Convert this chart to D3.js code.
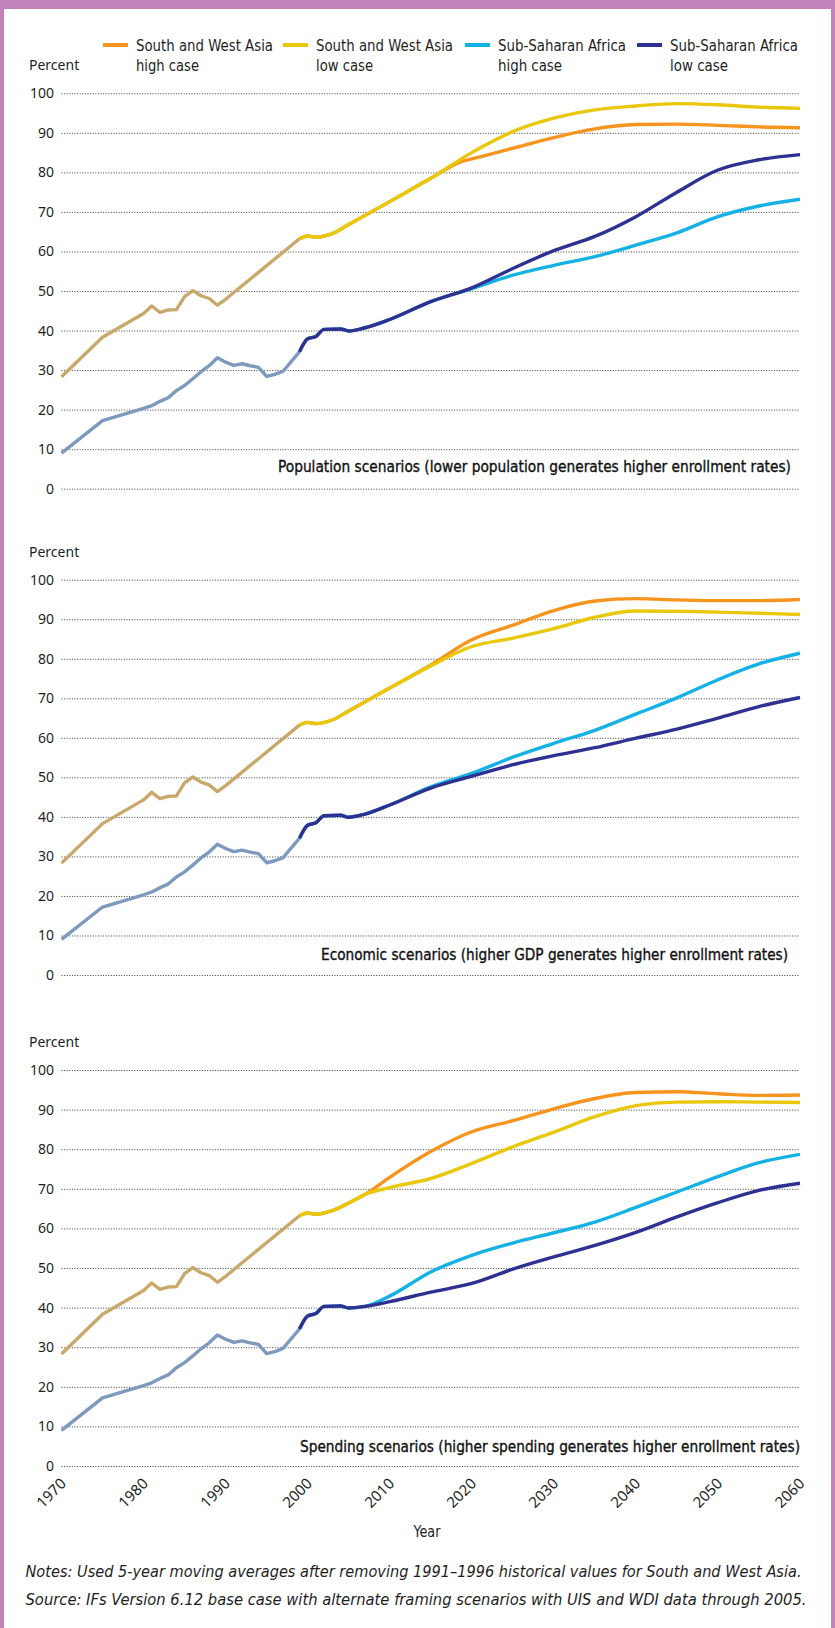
<!DOCTYPE html>
<html>
<head>
<meta charset="utf-8">
<script src="https://cdn.jsdelivr.net/npm/d3@7"></script>
<style>
  body { margin: 0; background: #fff; }
  svg { display: block; }
</style>
</head>
<body>
<svg id="chart" width="835" height="1628"></svg>
<script>
// ---- Data -------------------------------------------------------------
const yearTicks = [1970, 1980, 1990, 2000, 2010, 2020, 2030, 2040, 2050, 2060];
const percentTicks = [0, 10, 20, 30, 40, 50, 60, 70, 80, 90, 100];

const legendLabels = [
  ["South and West Asia", "high case"],
  ["South and West Asia", "low case"],
  ["Sub-Saharan Africa", "high case"],
  ["Sub-Saharan Africa", "low case"]
];

const panelCaptions = [
  "Population scenarios (lower population generates higher enrollment rates)",
  "Economic scenarios (higher GDP generates higher enrollment rates)",
  "Spending scenarios (higher spending generates higher enrollment rates)"
];

// Historical enrollment, [year, percent]
const swaHistory = [[1970,28.3],[1975,38.3],[1980,44.3],[1981,46.2],[1982,44.6],[1983,45.2],[1984,45.3],
  [1985,48.6],[1986,50.1],[1987,48.8],[1988,48.1],[1989,46.4],[1990,47.9],[1999,63.2]];
const ssaHistory = [[1970,9.0],[1975,17.2],[1980,20.3],[1981,21.0],[1982,22.1],[1983,23.0],[1984,24.8],
  [1985,26.1],[1986,27.8],[1987,29.6],[1988,31.1],[1989,33.1],[1990,32.0],[1991,31.2],[1992,31.6],
  [1993,31.1],[1994,30.7],[1995,28.4],[1996,28.9],[1997,29.7],[1999,34.6]];

// Population scenarios
const popSwaHigh = [[1999,63.2],[2000,63.9],[2001,63.6],[2003,64.5],[2005,66.8],[2010,72.6],[2015,78.5],
  [2019,82.9],[2020,83.4],[2025,86.1],[2030,88.8],[2035,91.0],[2040,92.1],[2045,92.2],[2050,91.9],[2055,91.5],[2060,91.3]];
const popSwaLow = [[1999,63.2],[2000,63.9],[2001,63.6],[2003,64.5],[2005,66.8],[2010,72.6],[2015,78.5],
  [2020,85.0],[2025,90.3],[2030,93.7],[2035,95.8],[2040,96.8],[2045,97.4],[2050,97.1],[2055,96.5],[2060,96.2]];
const popSsaHigh = [[1999,34.6],[2000,37.9],[2001,38.5],[2002,40.3],[2004,40.4],[2005,39.9],[2007,40.7],
  [2010,42.8],[2015,47.3],[2020,50.6],[2025,54.0],[2030,56.5],[2035,58.7],[2040,61.6],[2045,64.7],[2050,68.8],[2055,71.5],[2060,73.2]];
const popSsaLow = [[1999,34.6],[2000,37.9],[2001,38.5],[2002,40.3],[2004,40.4],[2005,39.9],[2007,40.7],
  [2010,42.8],[2015,47.3],[2020,50.8],[2025,55.7],[2030,60.2],[2035,63.8],[2040,68.8],[2045,75.0],[2050,80.6],[2055,83.2],[2060,84.5]];

// Economic scenarios
const gdpSwaHigh = [[1999,63.2],[2000,63.9],[2001,63.6],[2003,64.5],[2005,66.8],[2010,72.6],[2015,78.4],
  [2020,84.8],[2025,88.5],[2030,92.2],[2035,94.6],[2040,95.2],[2045,94.9],[2050,94.7],[2055,94.7],[2060,95.0]];
const gdpSwaLow = [[1999,63.2],[2000,63.9],[2001,63.6],[2003,64.5],[2005,66.8],[2010,72.6],[2015,78.2],
  [2020,83.1],[2025,85.2],[2030,87.6],[2035,90.5],[2040,92.1],[2045,92.0],[2050,91.8],[2055,91.5],[2060,91.2]];
const gdpSsaHigh = [[1999,34.6],[2000,37.9],[2001,38.5],[2002,40.3],[2004,40.4],[2005,39.9],[2007,40.7],
  [2010,43.0],[2015,47.6],[2020,51.0],[2025,55.1],[2030,58.6],[2035,61.9],[2040,66.0],[2045,70.1],[2050,74.7],[2055,78.7],[2060,81.4]];
const gdpSsaLow = [[1999,34.6],[2000,37.9],[2001,38.5],[2002,40.3],[2004,40.4],[2005,39.9],[2007,40.7],
  [2010,43.0],[2015,47.3],[2020,50.3],[2025,53.2],[2030,55.5],[2035,57.5],[2040,59.9],[2045,62.2],[2050,65.0],[2055,67.9],[2060,70.2]];

// Spending scenarios
const spendSwaHigh = [[1999,63.2],[2000,63.9],[2001,63.6],[2003,64.5],[2005,66.4],[2007,68.6],[2010,72.9],
  [2015,79.4],[2020,84.4],[2025,87.2],[2030,90.2],[2035,92.8],[2040,94.3],[2045,94.5],[2050,94.0],[2055,93.6],[2060,93.7]];
const spendSwaLow = [[1999,63.2],[2000,63.9],[2001,63.6],[2003,64.5],[2005,66.4],[2007,68.6],[2010,70.3],
  [2015,72.6],[2020,76.4],[2025,80.6],[2030,84.3],[2035,88.2],[2040,91.0],[2045,91.9],[2050,92.0],[2055,91.9],[2060,91.8]];
const spendSsaHigh = [[1999,34.6],[2000,37.9],[2001,38.5],[2002,40.3],[2004,40.4],[2005,39.9],[2007,40.3],
  [2010,42.9],[2015,49.0],[2020,53.2],[2025,56.3],[2030,58.9],[2035,61.6],[2040,65.3],[2045,69.2],[2050,73.1],[2055,76.6],[2060,78.7]];
const spendSsaLow = [[1999,34.6],[2000,37.9],[2001,38.5],[2002,40.3],[2004,40.4],[2005,39.9],[2007,40.3],
  [2010,41.5],[2015,43.9],[2020,46.1],[2025,49.7],[2030,52.8],[2035,55.7],[2040,59.0],[2045,62.9],[2050,66.5],[2055,69.6],[2060,71.4]];

const notesText = "Notes: Used 5-year moving averages after removing 1991\u20131996 historical values for South and West Asia.";
const sourceText = "Source: IFs Version 6.12 base case with alternate framing scenarios with UIS and WDI data through 2005.";

// ---- Styles & layout -------------------------------------------------
const colors = {
  swaHigh: "#f7941d", swaLow: "#e9c70b", ssaHigh: "#14b1e7", ssaLow: "#2e3192",
  swaHist: "#c9a96b", ssaHist: "#7d99be", frame: "#c283ba", grid: "#3a3a3a", text: "#1e1e1e"
};
const seriesColors = [colors.swaHigh, colors.swaLow, colors.ssaHigh, colors.ssaLow];

const condensed = "'Liberation Sans Narrow', 'DejaVu Sans Condensed', 'Arial Narrow', 'Noto Sans', sans-serif";
const plain = "'Noto Sans', 'Open Sans', sans-serif";

const W = 835, H = 1628;
const plotLeft = 61.5, plotRight = 800;

const panels = [
  { top: 93.3,  bottom: 488.7, capRight: 791, capY: 472,
    series: [popSwaHigh, popSwaLow, popSsaHigh, popSsaLow] },
  { top: 579.7, bottom: 975,   capRight: 788, capY: 960,
    series: [gdpSwaHigh, gdpSwaLow, gdpSsaHigh, gdpSsaLow] },
  { top: 1070,  bottom: 1466,  capRight: 800, capY: 1452,
    series: [spendSwaHigh, spendSwaLow, spendSsaHigh, spendSsaLow] }
];
const captionWidths = [513, 467, 500];

// Squeeze a text element to a target width (condensed look)
function fitWidth(sel, w) {
  sel.attr("textLength", w).attr("lengthAdjust", "spacingAndGlyphs");
}

const svg = d3.select("#chart");
svg.append("rect").attr("width", W).attr("height", H).attr("fill", "#fff");

// Frame
svg.append("rect").attr("x", 0).attr("y", 0).attr("width", W).attr("height", 9).attr("fill", colors.frame);
svg.append("rect").attr("x", 0).attr("y", 0).attr("width", 4).attr("height", H).attr("fill", colors.frame);
svg.append("rect").attr("x", 831).attr("y", 0).attr("width", 4).attr("height", H).attr("fill", colors.frame);

const x = d3.scaleLinear().domain([1970, 2060]).range([plotLeft, plotRight]);

// Legend
const legendX = [103, 283, 465, 637];
const legendTextWidths = [[137, 63], [137, 57], [128, 64], [128, 58]];
legendLabels.forEach((lines, i) => {
  const g = svg.append("g");
  g.append("line")
    .attr("x1", legendX[i]).attr("x2", legendX[i] + 25)
    .attr("y1", 45).attr("y2", 45)
    .attr("stroke", seriesColors[i]).attr("stroke-width", 4);
  lines.forEach((t, j) => {
    g.append("text")
      .attr("x", legendX[i] + 33).attr("y", 50.5 + j * 20)
      .attr("font-family", condensed).attr("font-size", 16)
      .attr("fill", colors.text).text(t)
      .call(fitWidth, legendTextWidths[i][j]);
  });
});

panels.forEach((p, pi) => {
  const y = d3.scaleLinear().domain([0, 100]).range([p.bottom, p.top]);
  const g = svg.append("g");

  // "Percent" axis title
  g.append("text")
    .attr("x", 29).attr("y", p.top - 28).attr("dy", "0.35em")
    .attr("font-family", plain).attr("font-size", 14).attr("fill", colors.text)
    .text("Percent");

  // Dotted gridlines with tick labels
  const yAxis = d3.axisLeft(y).tickValues(percentTicks)
    .tickSize(-(plotRight - plotLeft)).tickPadding(7.5).tickFormat(d3.format("d"));
  const ag = g.append("g").attr("transform", `translate(${plotLeft},0)`).call(yAxis);
  ag.select(".domain").remove();
  ag.selectAll(".tick line")
    .attr("stroke", colors.grid).attr("stroke-width", 1).attr("stroke-dasharray", "1,1.6");
  ag.selectAll(".tick text")
    .attr("font-family", plain).attr("font-size", 14).attr("fill", colors.text);

  // Caption
  g.append("text")
    .attr("x", p.capRight).attr("y", p.capY).attr("text-anchor", "end")
    .attr("font-family", condensed).attr("font-size", 16)
    .attr("fill", "#111").attr("stroke", "#111").attr("stroke-width", 0.35)
    .text(panelCaptions[pi])
    .call(fitWidth, captionWidths[pi]);

  // History
  const lineHist = d3.line().x(d => x(d[0])).y(d => y(d[1]));
  g.append("path").datum(swaHistory).attr("d", lineHist)
    .attr("fill", "none").attr("stroke", colors.swaHist).attr("stroke-width", 3.4)
    .attr("stroke-linejoin", "round");
  g.append("path").datum(ssaHistory).attr("d", lineHist)
    .attr("fill", "none").attr("stroke", colors.ssaHist).attr("stroke-width", 3.4)
    .attr("stroke-linejoin", "round");

  // Scenario projections
  const lineProj = d3.line().curve(d3.curveMonotoneX).x(d => x(d[0])).y(d => y(d[1]));
  p.series.forEach((s, si) => {
    g.append("path").datum(s).attr("d", lineProj)
      .attr("fill", "none").attr("stroke", seriesColors[si]).attr("stroke-width", 3.4)
      .attr("stroke-linejoin", "round");
  });

  // Year axis on the bottom panel only
  if (pi === panels.length - 1) {
    const xAxis = d3.axisBottom(x).tickValues(yearTicks).tickSize(0).tickFormat(d3.format("d"));
    const xg = g.append("g").attr("transform", `translate(0,${p.bottom})`).call(xAxis);
    xg.select(".domain").remove();
    xg.selectAll(".tick text")
      .attr("x", 0).attr("y", 0).attr("dy", 0)
      .attr("text-anchor", "end")
      .attr("transform", "translate(5,18.5) rotate(-45)")
      .attr("font-family", plain).attr("font-size", 15).attr("fill", colors.text);
    g.append("text")
      .attr("x", 427).attr("y", 1537).attr("text-anchor", "middle")
      .attr("font-family", condensed).attr("font-size", 16).attr("fill", colors.text)
      .text("Year")
      .call(fitWidth, 27);
  }
});

// Notes and source
svg.append("text")
  .attr("x", 25.5).attr("y", 1577)
  .attr("font-family", condensed).attr("font-size", 16).attr("font-style", "italic")
  .attr("fill", colors.text)
  .text(notesText)
  .call(fitWidth, 776);
svg.append("text")
  .attr("x", 25.5).attr("y", 1605)
  .attr("font-family", condensed).attr("font-size", 16).attr("font-style", "italic")
  .attr("fill", colors.text)
  .text(sourceText)
  .call(fitWidth, 781);
</script>
</body>
</html>
